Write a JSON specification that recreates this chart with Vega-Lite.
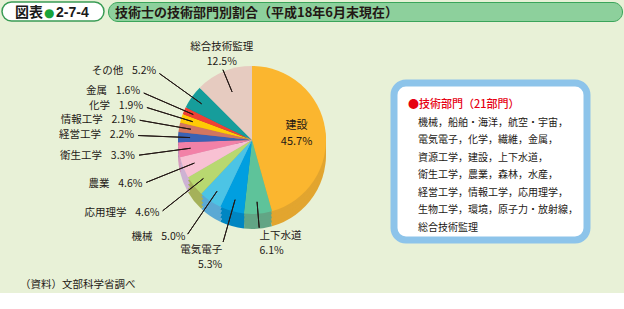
{
  "$schema": "https://vega.github.io/schema/vega-lite/v6.json",
  "background": "#e8f1d7",
  "padding": {"left": 1, "top": 1, "right": 2, "bottom": 2},
  "config": {"view": {"stroke": null}, "font": "Noto Sans CJK JP", "concat": {"spacing": 0}},
  "datasets": {
    "pie": [
      {"部門": "建設", "割合": 0.457, "順": 0},
      {"部門": "上下水道", "割合": 0.061, "順": 1},
      {"部門": "電気電子", "割合": 0.053, "順": 2},
      {"部門": "機械", "割合": 0.05, "順": 3},
      {"部門": "応用理学", "割合": 0.046, "順": 4},
      {"部門": "農業", "割合": 0.046, "順": 5},
      {"部門": "衛生工学", "割合": 0.033, "順": 6},
      {"部門": "経営工学", "割合": 0.022, "順": 7},
      {"部門": "情報工学", "割合": 0.021, "順": 8},
      {"部門": "化学", "割合": 0.019, "順": 9},
      {"部門": "金属", "割合": 0.016, "順": 10},
      {"部門": "その他", "割合": 0.052, "順": 11},
      {"部門": "総合技術監理", "割合": 0.125, "順": 12}
    ],
    "box": [
      {"行": 0, "文": "●技術部門（21部門）"},
      {"行": 1, "文": "機械，船舶・海洋，航空・宇宙，"},
      {"行": 2, "文": "電気電子，化学，繊維，金属，"},
      {"行": 3, "文": "資源工学，建設，上下水道，"},
      {"行": 4, "文": "衛生工学，農業，森林，水産，"},
      {"行": 5, "文": "経営工学，情報工学，応用理学，"},
      {"行": 6, "文": "生物工学，環境，原子力・放射線，"},
      {"行": 7, "文": "総合技術監理"}
    ]
  },
  "spacing": 0,
  "vconcat": [
    {
      "spacing": 2,
      "hconcat": [
        {
          "width": 102, "height": 19,
          "data": {"values": [{}]},
          "view": {"fill": "#ffffff", "stroke": "#3a9c55", "strokeWidth": 1.5, "cornerRadius": 10},
          "layer": [
            {"mark": {"type": "text", "text": "図表", "align": "left", "baseline": "middle", "dx": -38, "dy": 1, "fontSize": 14, "fontWeight": "bold", "color": "#1a1a1a"}, "encoding": {}},
            {"mark": {"type": "text", "text": "●", "align": "left", "baseline": "middle", "dx": -9, "dy": 1, "fontSize": 12, "color": "#19a33a", "font": "DejaVu Sans"}, "encoding": {}},
            {"mark": {"type": "text", "text": "2-7-4", "align": "left", "baseline": "middle", "dx": 3, "dy": 1, "fontSize": 14, "fontWeight": "bold", "color": "#1a1a1a", "font": "Liberation Sans"}, "encoding": {}}
          ]
        },
        {
          "width": 514, "height": 19,
          "data": {"values": [{}]},
          "view": {"fill": "#8dd09c", "stroke": "#3aa55a", "strokeWidth": 1, "cornerRadius": 10},
          "mark": {"type": "text", "text": "技術士の技術部門別割合（平成18年6月末現在）", "align": "left", "baseline": "middle", "dx": -250, "dy": 1, "fontSize": 13, "fontWeight": "bold", "color": "#231815"},
          "encoding": {}
        }
      ]
    },
    {
      "spacing": 4,
      "hconcat": [
        {
          "width": 384, "height": 236,
          "data": {"name": "pie"},
          "title": {"text": "（資料）文部科学省調べ", "orient": "bottom", "anchor": "start", "offset": 6, "fontSize": 10.5, "fontWeight": "normal", "color": "#231815", "dx": 18},
          "encoding": {
            "theta": {"field": "割合", "type": "quantitative", "stack": true},
            "order": {"field": "順", "type": "quantitative"}
          },
          "resolve": {"scale": {"color": "independent"}},
          "layer": [
            {"mark": {"type": "arc", "radius": 74, "xOffset": 58, "yOffset": 15},
             "encoding": {"color": {"field": "部門", "type": "nominal", "legend": null, "scale": {"domain": ["建設","上下水道","電気電子","機械","応用理学","農業","衛生工学","経営工学","情報工学","化学","金属","その他","総合技術監理"], "range": ["#e2a52f","#62a585","#0086c2","#5aa9d4","#a5b15a","#cdb2d3","#d59abd","#34539a","#b06050","#d8ac05","#c8352c","#138583","#c6aea4"]}}}},
            {"mark": {"type": "arc", "radius": 74, "xOffset": 58, "yOffset": 11},
             "encoding": {"color": {"field": "部門", "type": "nominal", "legend": null, "scale": {"domain": ["建設","上下水道","電気電子","機械","応用理学","農業","衛生工学","経営工学","情報工学","化学","金属","その他","総合技術監理"], "range": ["#e2a52f","#62a585","#0086c2","#5aa9d4","#a5b15a","#cdb2d3","#d59abd","#34539a","#b06050","#d8ac05","#c8352c","#138583","#c6aea4"]}}}},
            {"mark": {"type": "arc", "radius": 74, "xOffset": 58, "yOffset": 7},
             "encoding": {"color": {"field": "部門", "type": "nominal", "legend": null, "scale": {"domain": ["建設","上下水道","電気電子","機械","応用理学","農業","衛生工学","経営工学","情報工学","化学","金属","その他","総合技術監理"], "range": ["#e2a52f","#62a585","#0086c2","#5aa9d4","#a5b15a","#cdb2d3","#d59abd","#34539a","#b06050","#d8ac05","#c8352c","#138583","#c6aea4"]}}}},
            {"mark": {"type": "arc", "radius": 74, "xOffset": 58, "yOffset": 3},
             "encoding": {"color": {"field": "部門", "type": "nominal", "legend": null, "scale": {"domain": ["建設","上下水道","電気電子","機械","応用理学","農業","衛生工学","経営工学","情報工学","化学","金属","その他","総合技術監理"], "range": ["#e2a52f","#62a585","#0086c2","#5aa9d4","#a5b15a","#cdb2d3","#d59abd","#34539a","#b06050","#d8ac05","#c8352c","#138583","#c6aea4"]}}}},
            {"mark": {"type": "arc", "radius": 74, "xOffset": 58},
             "encoding": {"color": {"field": "部門", "type": "nominal", "legend": null, "scale": {"domain": ["建設","上下水道","電気電子","機械","応用理学","農業","衛生工学","経営工学","情報工学","化学","金属","その他","総合技術監理"], "range": ["#fbb62f","#5ec39a","#009fe0","#4cc4e5","#b8d870","#f8c1d3","#f281a7","#3a62b4","#d27660","#ffcb05","#ef4035","#169d9b","#e6cbc0"]}}}},
            {"transform": [{"stack": "割合", "groupby": [], "sort": [{"field": "順", "order": "ascending"}], "as": ["s0", "s1"]}, {"filter": "(datum['順'] >= 3 && datum['順'] <= 8) || datum['順'] == 11"}],
             "mark": {"type": "arc", "radius": 114, "radius2": 62, "padAngle": 0.867, "xOffset": 58, "filled": false, "stroke": "#231815", "strokeWidth": 1},
             "encoding": {"theta": {"field": "s0", "type": "quantitative", "stack": null}, "theta2": {"field": "s1"}}},
            {"transform": [{"stack": "割合", "groupby": [], "sort": [{"field": "順", "order": "ascending"}], "as": ["s0", "s1"]}, {"filter": "datum['順'] == 9"}],
             "mark": {"type": "arc", "radius": 110, "radius2": 62, "padAngle": 0.867, "xOffset": 58, "filled": false, "stroke": "#231815", "strokeWidth": 1},
             "encoding": {"theta": {"field": "s0", "type": "quantitative", "stack": null}, "theta2": {"field": "s1"}}},
            {"transform": [{"stack": "割合", "groupby": [], "sort": [{"field": "順", "order": "ascending"}], "as": ["s0", "s1"]}, {"filter": "datum['順'] == 10"}],
             "mark": {"type": "arc", "radius": 118, "radius2": 64, "padAngle": 0.867, "xOffset": 58, "filled": false, "stroke": "#231815", "strokeWidth": 1},
             "encoding": {"theta": {"field": "s0", "type": "quantitative", "stack": null}, "theta2": {"field": "s1"}}},
            {"transform": [{"stack": "割合", "groupby": [], "sort": [{"field": "順", "order": "ascending"}], "as": ["s0", "s1"]}, {"filter": "datum['順'] == 2"}],
             "mark": {"type": "arc", "radius": 106, "radius2": 62, "padAngle": 0.867, "xOffset": 58, "filled": false, "stroke": "#231815", "strokeWidth": 1},
             "encoding": {"theta": {"field": "s0", "type": "quantitative", "stack": null}, "theta2": {"field": "s1"}}},
            {"transform": [{"stack": "割合", "groupby": [], "sort": [{"field": "順", "order": "ascending"}], "as": ["s0", "s1"]}, {"filter": "datum['順'] == 1"}],
             "mark": {"type": "arc", "radius": 88, "radius2": 62, "padAngle": 0.867, "xOffset": 58, "filled": false, "stroke": "#231815", "strokeWidth": 1},
             "encoding": {"theta": {"field": "s0", "type": "quantitative", "stack": null}, "theta2": {"field": "s1"}}},
            {"transform": [{"stack": "割合", "groupby": [], "sort": [{"field": "順", "order": "ascending"}], "as": ["s0", "s1"]}, {"filter": "datum['順'] == 12"}],
             "mark": {"type": "arc", "radius": 76, "radius2": 52, "padAngle": 0.867, "xOffset": 58, "filled": false, "stroke": "#231815", "strokeWidth": 1},
             "encoding": {"theta": {"field": "s0", "type": "quantitative", "stack": null}, "theta2": {"field": "s1"}}},
            {"mark": {"type": "text", "radius": 118, "xOffset": 58, "align": "right", "baseline": "middle", "dx": -33, "fontSize": 10.5, "color": "#231815"},
             "encoding": {"text": {"condition": {"test": "(datum['順'] >= 3 && datum['順'] <= 8) || datum['順'] == 11", "field": "部門", "type": "nominal"}, "value": ""}}},
            {"mark": {"type": "text", "radius": 118, "xOffset": 58, "align": "right", "baseline": "middle", "fontSize": 10.5, "color": "#231815"},
             "encoding": {"text": {"condition": {"test": "(datum['順'] >= 3 && datum['順'] <= 8) || datum['順'] == 11", "field": "割合", "type": "quantitative", "format": ".1%"}, "value": ""}}},
            {"mark": {"type": "text", "radius": 114, "xOffset": 58, "align": "right", "baseline": "middle", "dx": -33, "fontSize": 10.5, "color": "#231815"},
             "encoding": {"text": {"condition": {"test": "datum['順'] == 9", "field": "部門", "type": "nominal"}, "value": ""}}},
            {"mark": {"type": "text", "radius": 114, "xOffset": 58, "align": "right", "baseline": "middle", "fontSize": 10.5, "color": "#231815"},
             "encoding": {"text": {"condition": {"test": "datum['順'] == 9", "field": "割合", "type": "quantitative", "format": ".1%"}, "value": ""}}},
            {"mark": {"type": "text", "radius": 122, "xOffset": 58, "align": "right", "baseline": "middle", "dx": -33, "fontSize": 10.5, "color": "#231815"},
             "encoding": {"text": {"condition": {"test": "datum['順'] == 10", "field": "部門", "type": "nominal"}, "value": ""}}},
            {"mark": {"type": "text", "radius": 122, "xOffset": 58, "align": "right", "baseline": "middle", "fontSize": 10.5, "color": "#231815"},
             "encoding": {"text": {"condition": {"test": "datum['順'] == 10", "field": "割合", "type": "quantitative", "format": ".1%"}, "value": ""}}},
            {"mark": {"type": "text", "radius": 109, "xOffset": 58, "align": "right", "baseline": "top", "fontSize": 10.5, "color": "#231815"},
             "encoding": {"text": {"condition": {"test": "datum['順'] == 2", "field": "部門", "type": "nominal"}, "value": ""}}},
            {"mark": {"type": "text", "radius": 109, "xOffset": 58, "align": "right", "baseline": "top", "dy": 15, "fontSize": 10.5, "color": "#231815"},
             "encoding": {"text": {"condition": {"test": "datum['順'] == 2", "field": "割合", "type": "quantitative", "format": ".1%"}, "value": ""}}},
            {"mark": {"type": "text", "radius": 91, "xOffset": 58, "align": "left", "baseline": "top", "fontSize": 10.5, "color": "#231815"},
             "encoding": {"text": {"condition": {"test": "datum['順'] == 1", "field": "部門", "type": "nominal"}, "value": ""}}},
            {"mark": {"type": "text", "radius": 91, "xOffset": 58, "align": "left", "baseline": "top", "dy": 15, "fontSize": 10.5, "color": "#231815"},
             "encoding": {"text": {"condition": {"test": "datum['順'] == 1", "field": "割合", "type": "quantitative", "format": ".1%"}, "value": ""}}},
            {"mark": {"type": "text", "radius": 79, "xOffset": 58, "align": "center", "baseline": "bottom", "dy": -15, "fontSize": 10.5, "color": "#231815"},
             "encoding": {"text": {"condition": {"test": "datum['順'] == 12", "field": "部門", "type": "nominal"}, "value": ""}}},
            {"mark": {"type": "text", "radius": 79, "xOffset": 58, "align": "center", "baseline": "bottom", "fontSize": 10.5, "color": "#231815"},
             "encoding": {"text": {"condition": {"test": "datum['順'] == 12", "field": "割合", "type": "quantitative", "format": ".1%"}, "value": ""}}},
            {"mark": {"type": "text", "radius": 45, "xOffset": 58, "align": "center", "baseline": "middle", "dy": -8, "fontSize": 11, "color": "#231815"},
             "encoding": {"text": {"condition": {"test": "datum['順'] == 0", "field": "部門", "type": "nominal"}, "value": ""}}},
            {"mark": {"type": "text", "radius": 45, "xOffset": 58, "align": "center", "baseline": "middle", "dy": 8, "fontSize": 11, "color": "#231815"},
             "encoding": {"text": {"condition": {"test": "datum['順'] == 0", "field": "割合", "type": "quantitative", "format": ".1%"}, "value": ""}}}
          ]
        },
        {
          "spacing": 0,
          "vconcat": [
            {"width": 193, "height": 57, "data": {"values": [{}]}, "mark": {"type": "text", "text": ""}, "encoding": {}},
            {
              "width": 193, "height": 157,
              "data": {"name": "box"},
              "view": {"fill": "#ffffff", "stroke": "#8dc4ea", "strokeWidth": 7, "cornerRadius": 12},
              "encoding": {"y": {"field": "行", "type": "ordinal", "axis": null, "scale": {"padding": 1.217, "align": 0.642}}},
              "layer": [
                {"transform": [{"filter": "datum['行'] == 0"}],
                 "mark": {"type": "text", "align": "left", "baseline": "middle", "dx": -82.5, "fontSize": 11, "fontWeight": 500, "color": "#e60012"},
                 "encoding": {"text": {"field": "文", "type": "nominal"}}},
                {"transform": [{"filter": "datum['行'] > 0"}],
                 "mark": {"type": "text", "align": "left", "baseline": "middle", "dx": -72.5, "fontSize": 10, "color": "#231815"},
                 "encoding": {"text": {"field": "文", "type": "nominal"}}}
              ]
            }
          ]
        }
      ]
    }
  ]
}
